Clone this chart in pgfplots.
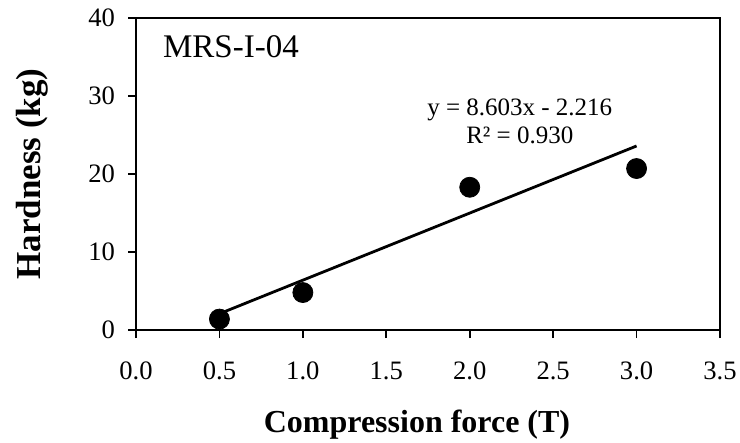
\documentclass[border=0pt]{standalone}
\usepackage{fontspec}
\setmainfont{Liberation Serif}
\usepackage{pgfplots}
\pgfplotsset{compat=1.18}

\begin{document}
\begin{tikzpicture}
\begin{axis}[
  name=ax,
  scale only axis,
  width=292pt, height=156pt,
  xmin=0, xmax=3.5, ymin=0, ymax=40,
  xtick={0,0.5,...,3.5},
  ytick={0,10,...,40},
  xticklabel style={/pgf/number format/fixed, /pgf/number format/fixed zerofill, /pgf/number format/precision=1, yshift=-8.5pt},
  /pgf/number format/assume math mode=true,
  tick align=outside,
  xtick pos=bottom, ytick pos=left,
  major tick length=4pt,
  tick style={line width=0.8pt, black},
  axis line style={line width=1pt},
  ticklabel style={font=\fontsize{13.3}{15}\selectfont},
  yticklabel style={xshift=-3pt},
  xlabel={\textbf{Compression force (T)}},
  ylabel={\textbf{Hardness (kg)}},
  xlabel style={font=\fontsize{16}{18}\selectfont, xshift=-5.5pt, yshift=-8pt},
  ylabel style={font=\fontsize{17.5}{20}\selectfont, yshift=13pt},
]
% measured hardness
\addplot[only marks, mark=*, mark size=5pt, black] coordinates {
  (0.5,1.4) (1.0,4.8) (2.0,18.3) (3.0,20.7)
};
% linear trendline y = 8.603x - 2.216
\addplot[line width=1.4pt, black] coordinates {
  (0.5,2.0855) (3.0,23.593)
};
\node[anchor=west, font=\fontsize{16.5}{18}\selectfont] at (axis cs:0.12,36.3) {MRS-I-04};
\node[font=\fontsize{12.5}{14}\selectfont, align=center] at (axis cs:2.3,26.8)
  {y = 8.603x - 2.216\\R² = 0.930};
\end{axis}
\pgfresetboundingbox
\path (ax.south west) ++(-68pt,-56pt) coordinate (bl);
\path (ax.north east) ++(10pt,9pt) coordinate (tr);
\path[use as bounding box] (bl) rectangle (tr);
\end{tikzpicture}
\end{document}
